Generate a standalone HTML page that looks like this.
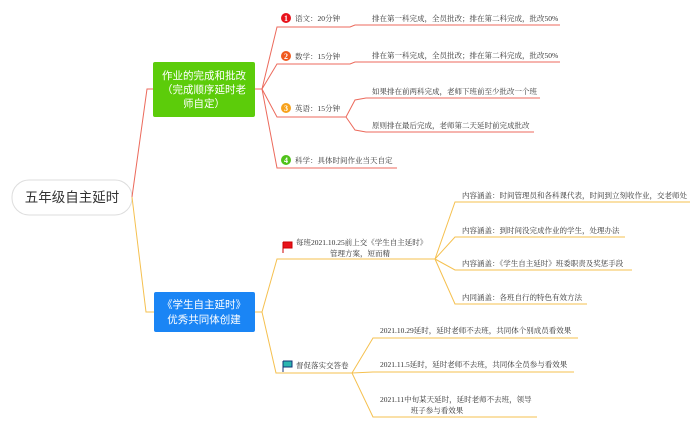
<!DOCTYPE html>
<html><head><meta charset="utf-8"><style>
html,body{margin:0;padding:0;background:#fff;}
svg{display:block;font-family:"Liberation Serif","Noto Serif CJK SC",serif;}
.t{font-size:7.5px;fill:#333;}
</style></head><body>
<svg width="700" height="427" viewBox="0 0 700 427" xmlns="http://www.w3.org/2000/svg">
<rect x="12" y="180" width="120" height="35" rx="17" fill="#fff" stroke="#ddd"/>
<text x="72" y="202" font-size="13.5" fill="#333" text-anchor="middle" font-family="Liberation Sans,Noto Sans CJK SC,sans-serif">五年级自主延时</text>
<path d="M132 197 L147 89 L153 89" fill="none" stroke="#ec6a5c" stroke-width="1"/>
<path d="M132 197 L146 312 L154 312" fill="none" stroke="#f5c04f" stroke-width="1"/>
<rect x="153" y="62" width="102" height="55" rx="2" fill="#5ccc0a"/>
<g font-size="10.5" fill="#fff" text-anchor="middle" font-family="Liberation Sans,Noto Sans CJK SC,sans-serif">
<text x="204" y="79">作业的完成和批改</text><text x="204" y="93">（完成顺序延时老</text><text x="204" y="107">师自定）</text></g>
<rect x="154" y="292" width="101" height="40" rx="2" fill="#1a85f5"/>
<g font-size="10.5" fill="#fff" text-anchor="middle" font-family="Liberation Sans,Noto Sans CJK SC,sans-serif">
<text x="204" y="308">《学生自主延时》</text><text x="204" y="323">优秀共同体创建</text></g>
<g fill="none" stroke="#ec6a5c" stroke-width="1">
<path d="M255 89 L262 89 L277 27 L350 27 L355 25 L560 25"/>
<path d="M262 89 L277 64 L350 64 L355 62 L560 62"/>
<path d="M262 89 L277 117 L346 117 L355 100 L366 98 L540 98 M346 117 L355 130 L366 132 L534 132"/>
<path d="M262 89 L277 168 L397 168"/>
</g>
<circle cx="286" cy="18" r="5" fill="#e8121b"/><text x="286" y="21" font-size="8" fill="#fff" text-anchor="middle" font-weight="bold">1</text>
<circle cx="286" cy="56" r="5" fill="#f0591e"/><text x="286" y="59" font-size="8" fill="#fff" text-anchor="middle" font-weight="bold">2</text>
<circle cx="286" cy="108" r="5" fill="#f7a21c"/><text x="286" y="111" font-size="8" fill="#fff" text-anchor="middle" font-weight="bold">3</text>
<circle cx="286" cy="160" r="5" fill="#50c21a"/><text x="286" y="163" font-size="8" fill="#fff" text-anchor="middle" font-weight="bold">4</text>
<text class="t" x="295" y="21">语文：20分钟</text>
<text class="t" x="295" y="59">数学：15分钟</text>
<text class="t" x="295" y="111">英语：15分钟</text>
<text class="t" x="295" y="163">科学：具体时间作业当天自定</text>
<text class="t" x="372" y="21">排在第一科完成，全员批改；排在第二科完成，批改50%</text>
<text class="t" x="372" y="58">排在第一科完成，全员批改；排在第二科完成，批改50%</text>
<text class="t" x="372" y="94">如果排在前两科完成，老师下班前至少批改一个班</text>
<text class="t" x="372" y="128">原则排在最后完成，老师第二天延时前完成批改</text>
<g fill="none" stroke="#f5c04f" stroke-width="1">
<path d="M255 312 L262 312 L277 259 L435 259"/>
<path d="M435 259 L455 202 L690 202 M435 259 L455 237 L625 237 M435 259 L455 270 L632 270 M435 259 L455 304 L587 304"/>
<path d="M262 312 L276 373 L352 373"/>
<path d="M352 373 L373 338 L578 338 M352 373 L373 372 L574 372 M352 373 L373 417 L537 417"/>
</g>
<path d="M283 242 V253 M283 242 H292 V248 H283" stroke="#c00" fill="#e8121b" stroke-width="1"/>
<path d="M283 361 V372 M283 361 H292 V367 H283" stroke="#137" fill="#2bb5b0" stroke-width="1"/>
<text class="t" x="296" y="245">每班2021.10.25前上交《学生自主延时》</text>
<text class="t" x="360" y="256" text-anchor="middle">管理方案，短而精</text>
<text class="t" x="296" y="368">督促落实交答卷</text>
<text class="t" x="462" y="198">内容涵盖：时间管理员和各科课代表，时间到立刻收作业，交老师处</text>
<text class="t" x="462" y="233">内容涵盖：到时间没完成作业的学生，处理办法</text>
<text class="t" x="462" y="266">内容涵盖：《学生自主延时》班委职责及奖惩手段</text>
<text class="t" x="462" y="300">内同涵盖：各班自行的特色有效方法</text>
<text class="t" x="380" y="333">2021.10.29延时，延时老师不去班，共同体个别成员看效果</text>
<text class="t" x="380" y="367">2021.11.5延时，延时老师不去班，共同体全员参与看效果</text>
<text class="t" x="380" y="402">2021.11中旬某天延时，延时老师不去班，领导</text>
<text class="t" x="437" y="413" text-anchor="middle">班子参与看效果</text>
</svg>
</body></html>
